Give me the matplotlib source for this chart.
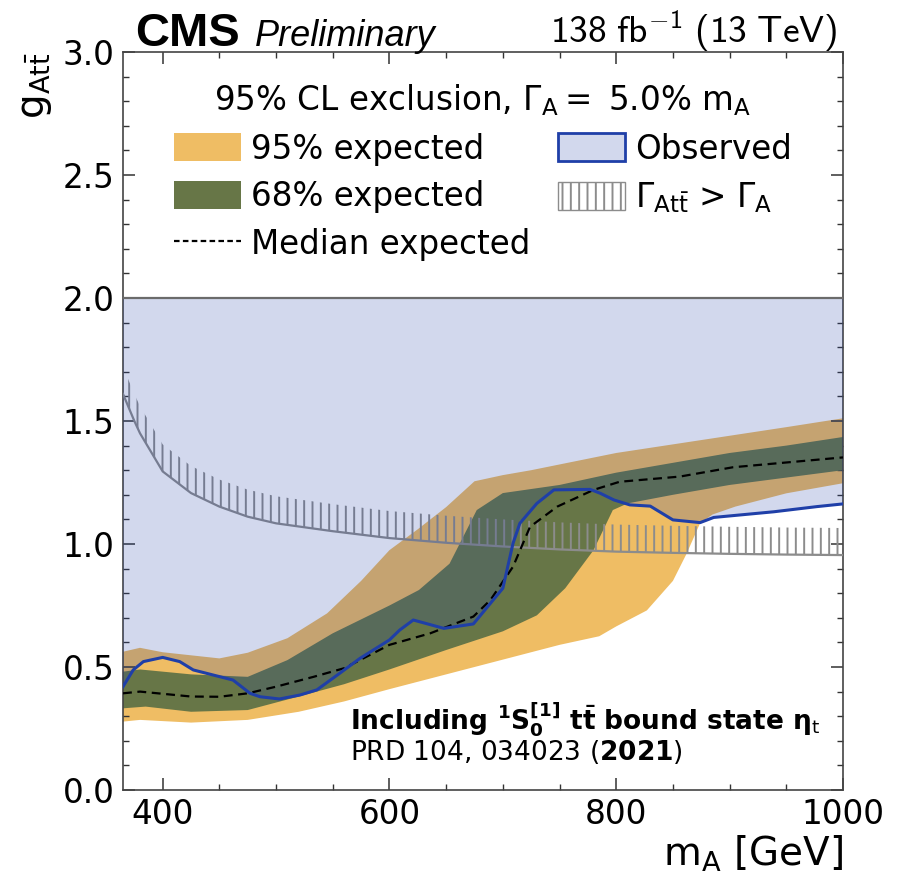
import numpy as np
import matplotlib
matplotlib.use("Agg")
import matplotlib.pyplot as plt
from matplotlib.patches import Patch
from matplotlib.lines import Line2D
from matplotlib.ticker import MultipleLocator

# ---- expected limits on the coupling (95% CL) ----
exp95_up_m = [365, 380, 400, 450, 475, 510, 545, 575, 600, 625, 650, 675, 700, 725, 800, 850, 900, 950, 1000]
exp95_up = [0.562, 0.578, 0.560, 0.535, 0.558, 0.617, 0.718, 0.850, 0.975, 1.06, 1.15, 1.255, 1.28, 1.30,
            1.37, 1.405, 1.44, 1.475, 1.511]
exp95_lo_m = [365, 380, 425, 475, 520, 560, 600, 650, 700, 750, 785, 800, 827, 850, 862, 874, 885, 905, 950, 1000]
exp95_lo = [0.278, 0.285, 0.274, 0.285, 0.318, 0.36, 0.41, 0.47, 0.53, 0.59, 0.625, 0.665, 0.73, 0.85, 0.96,
            1.085, 1.12, 1.152, 1.206, 1.247]

exp68_up_m = [365, 380, 425, 475, 510, 550, 600, 626, 653, 677, 700, 750, 800, 850, 900, 950, 1000]
exp68_up = [0.481, 0.49, 0.47, 0.46, 0.528, 0.637, 0.75, 0.813, 0.92, 1.138, 1.207, 1.24, 1.29, 1.33, 1.37,
            1.40, 1.435]
exp68_lo_m = [365, 385, 425, 475, 520, 560, 600, 650, 700, 730, 755, 780, 797, 810, 850, 900, 950, 1000]
exp68_lo = [0.332, 0.339, 0.318, 0.325, 0.38, 0.43, 0.49, 0.569, 0.645, 0.71, 0.82, 0.975, 1.138, 1.165,
            1.20, 1.24, 1.27, 1.30]

median_m = [365, 380, 425, 450, 475, 500, 533, 560, 600, 636, 674, 689, 709, 724, 748, 780, 803, 856, 903, 1000]
median = [0.393, 0.40, 0.38, 0.379, 0.393, 0.42, 0.46, 0.495, 0.59, 0.637, 0.705, 0.772, 0.908, 1.07, 1.152,
          1.22, 1.253, 1.274, 1.312, 1.352]

# ---- observed limit ----
obs_m = [365, 374, 383, 400, 415, 427, 450, 462, 477, 486, 503, 521, 536, 556, 574, 600, 609, 621, 648, 674,
         700, 709, 715, 730, 745, 777, 786, 798, 812, 830, 850, 874, 886, 939, 977, 1000]
obs = [0.42, 0.488, 0.522, 0.539, 0.522, 0.488, 0.461, 0.447, 0.393, 0.379, 0.37, 0.386, 0.407, 0.474, 0.535,
       0.61, 0.65, 0.691, 0.657, 0.675, 0.82, 1.003, 1.084, 1.165, 1.22, 1.222, 1.206, 1.179, 1.159, 1.154,
       1.098, 1.087, 1.108, 1.131, 1.152, 1.163]
g_scan_max = 2.0

# ---- coupling above which the partial width exceeds the total width ----
width_m = [365, 375, 380, 400, 425, 450, 475, 500, 550, 600, 650, 700, 750, 800, 850, 900, 950, 1000]
width_g = [1.61, 1.50, 1.45, 1.295, 1.207, 1.152, 1.111, 1.084, 1.052, 1.024, 1.005, 0.99, 0.978, 0.969,
           0.964, 0.96, 0.957, 0.955]

# ---- style ----
C95 = "#efbd64"
C68 = "#677647"
CBLUE = "#1f3fa8"
CGREY = "#8c8c8c"
HATCH_DEPTH = 0.11
FS = 23.5

plt.rcParams["font.family"] = ["DejaVu Sans"]
plt.rcParams["mathtext.fontset"] = "dejavusans"
# sans-serif Computer Modern for the luminosity label (used via math_fontfamily="custom")
plt.rcParams["mathtext.rm"] = "cmss10"
plt.rcParams["mathtext.it"] = "cmss10"
plt.rcParams["mathtext.bf"] = "cmss10"
plt.rcParams["mathtext.sf"] = "cmss10"
plt.rcParams["hatch.linewidth"] = 1.4

fig = plt.figure(figsize=(9.04, 8.74), dpi=100)
ax = fig.add_axes([123 / 904, 84 / 874, 720 / 904, 738 / 874])


def band(ax, xu, yu, xl, yl, **kw):
    xs = np.concatenate([xu, xl[::-1]])
    ys = np.concatenate([yu, yl[::-1]])
    return ax.fill(xs, ys, **kw)


band(ax, np.array(exp95_up_m), np.array(exp95_up), np.array(exp95_lo_m), np.array(exp95_lo),
     color=C95, lw=0, zorder=1)
band(ax, np.array(exp68_up_m), np.array(exp68_up), np.array(exp68_lo_m), np.array(exp68_lo),
     color=C68, lw=0, zorder=2)

# hatched region above the width curve
wm = np.array(width_m)
wg = np.array(width_g)
ax.fill_between(wm, wg, wg + HATCH_DEPTH, facecolor="none", edgecolor=CGREY, hatch="||", lw=0, zorder=3)
ax.plot(wm, wg, color=CGREY, lw=1.6, zorder=3.5)

# observed exclusion region
om = np.array(obs_m)
oy = np.array(obs)
ax.fill_between(om, oy, g_scan_max, facecolor=CBLUE, alpha=0.2, lw=0, zorder=4)
ax.axhline(g_scan_max, color="#6b6b6b", lw=1.6, zorder=4.5)
ax.plot(om, oy, color=CBLUE, lw=2.2, zorder=6)
ax.plot(median_m, median, color="black", lw=1.6, ls=(0, (4, 2.5)), zorder=5.5)

ax.set_xlim(365, 1000)
ax.set_ylim(0, 3.0)
ax.xaxis.set_major_locator(MultipleLocator(200))
ax.xaxis.set_minor_locator(MultipleLocator(50))
ax.yaxis.set_major_locator(MultipleLocator(0.5))
ax.yaxis.set_minor_locator(MultipleLocator(0.1))
ax.tick_params(which="both", direction="in", top=True, right=True, labelsize=FS, color="#333333")
ax.tick_params(which="major", length=8.5, width=1.1, pad=6)
ax.tick_params(which="minor", length=4, width=1.0)
for s in ax.spines.values():
    s.set_linewidth(1.2)
    s.set_color("#444444")

ax.set_xlabel(r"$\mathrm{m}_\mathrm{A}$ [GeV]", fontsize=28, loc="right", labelpad=2)
ax.set_ylabel(r"$\mathrm{g}_{\mathrm{At\bar{t}}}$", fontsize=28, loc="top", labelpad=6)

# legend
handles = [
    Patch(facecolor=C95, edgecolor="none"),
    Patch(facecolor=C68, edgecolor="none"),
    Line2D([], [], color="black", lw=1.6, ls=(0, (2.5, 1.5))),
    Patch(facecolor=(0.12, 0.25, 0.66, 0.2), edgecolor=CBLUE, lw=2),
    Patch(facecolor="white", edgecolor=CGREY, hatch="||", lw=1),
]
labels = ["95% expected", "68% expected", "Median expected", "Observed",
          r"$\Gamma_{\mathrm{At\bar{t}}}$ > $\Gamma_\mathrm{A}$"]
leg = ax.legend(handles, labels, ncol=2, loc="upper center", bbox_to_anchor=(0.5, 0.999),
                frameon=False, fontsize=FS, title=r"95% CL exclusion, $\Gamma_\mathrm{A} =$ 5.0% $\mathrm{m}_\mathrm{A}$",
                title_fontsize=FS, handlelength=2.05, handleheight=0.95, handletextpad=0.3,
                columnspacing=0.85, labelspacing=0.45)
leg.set_zorder(10)

# model annotation
ax.text(0.315, 0.095,
        r"Including $\mathbf{{}^{1}S_{0}^{[1]}}$ $\mathbf{t\bar{t}}$ bound state $\mathbf{\eta}_\mathrm{t}$",
        transform=ax.transAxes, fontsize=19, fontweight="bold", va="center", ha="left", zorder=10)
ax.text(0.315, 0.051, r"PRD 104, 034023 ($\mathbf{2021}$)",
        transform=ax.transAxes, fontsize=19, va="center", ha="left", zorder=10)

# experiment header
ax.text(0.017, 1.008, "CMS", transform=ax.transAxes, fontsize=34, fontweight="bold",
        family=["Liberation Sans", "DejaVu Sans"], ha="left", va="baseline")
ax.text(0.183, 1.008, "Preliminary", transform=ax.transAxes, fontsize=26, fontstyle="italic",
        family=["Liberation Sans", "DejaVu Sans"], ha="left", va="baseline")
ax.text(0.992, 1.011, r"$\mathrm{138\ fb^{-1}\ (13\ TeV)}$", transform=ax.transAxes, fontsize=27,
        math_fontfamily="custom", ha="right", va="baseline")

fig.savefig("out.png", dpi=100)
